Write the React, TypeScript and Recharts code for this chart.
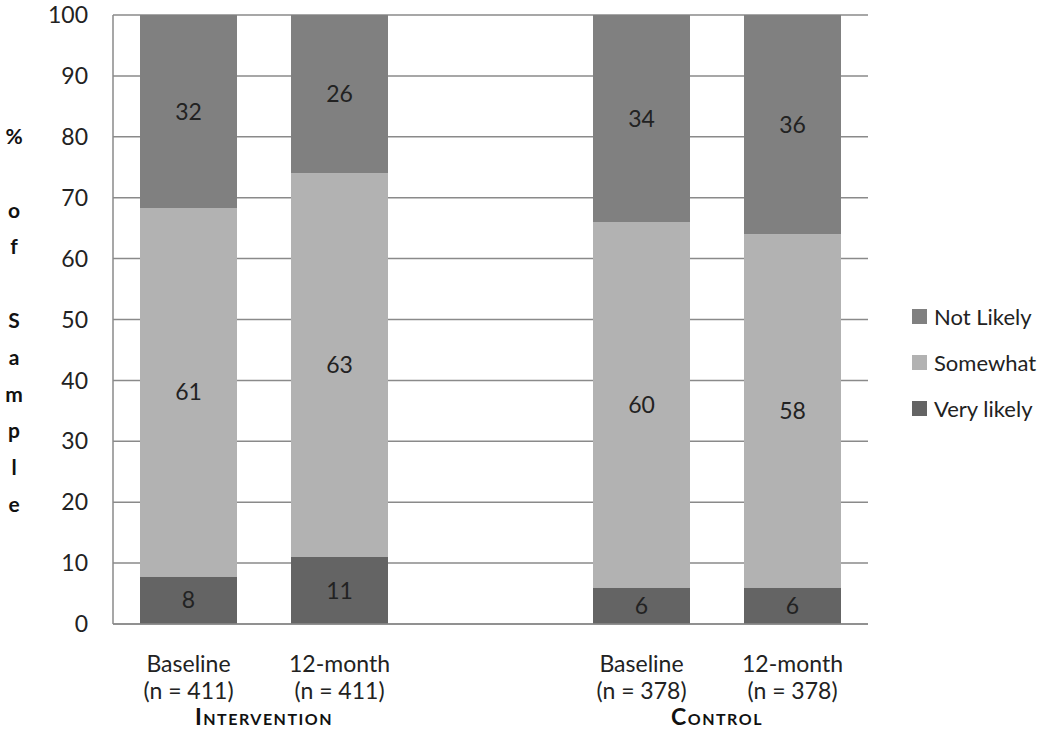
import React from 'react';
import { BarChart, Bar, XAxis, YAxis, CartesianGrid, LabelList, Legend } from 'recharts';

const categories = ['Baseline', '12-month', '', 'Baseline', '12-month'];
const sampleSizes = ['(n = 411)', '(n = 411)', '', '(n = 378)', '(n = 378)'];
const groupLabels = ['Intervention', '', '', 'Control', ''];
const veryLikely: (number | null)[] = [7.8, 11, null, 6, 6];
const somewhat: (number | null)[] = [60.5, 63, null, 60, 58];
const notLikely: (number | null)[] = [31.7, 26, null, 34, 36];
const yTicks = [0, 10, 20, 30, 40, 50, 60, 70, 80, 90, 100];
const yLabelLetters = ['%', '', 'o', 'f', '', 'S', 'a', 'm', 'p', 'l', 'e'];

const series = [
  { key: 'notLikely', name: 'Not Likely', color: '#808080' },
  { key: 'somewhat', name: 'Somewhat', color: '#b2b2b2' },
  { key: 'veryLikely', name: 'Very likely', color: '#646464' },
];

const data = categories.map((c, i) => ({
  name: c,
  idx: i,
  veryLikely: veryLikely[i],
  somewhat: somewhat[i],
  notLikely: notLikely[i],
}));

const FONT = 'Lato, "Open Sans", sans-serif';
const WIDTH = 1050;
const HEIGHT = 729;
const MARGIN = { top: 15, right: 182, left: 0, bottom: 0 };
const Y_WIDTH = 113;
const PLOT_W = WIDTH - MARGIN.right - MARGIN.left - Y_WIDTH;
const STEP = PLOT_W / categories.length;

const XTick = (props: any) => {
  const { x, y, payload } = props;
  const i = payload.index;
  return (
    <g>
      <text x={x} y={y + 48} textAnchor="middle" fontSize={23} fill="#222" fontFamily={FONT}>
        {categories[i]}
      </text>
      <text x={x} y={y + 75} textAnchor="middle" fontSize={23} fill="#222" fontFamily={FONT}>
        {sampleSizes[i]}
      </text>
      {groupLabels[i] ? (
        <text
          x={x + STEP / 2}
          y={y + 101}
          textAnchor="middle"
          fontSize={23}
          fontWeight="bold"
          fill="#111"
          fontFamily={FONT}
          letterSpacing={1.5}
          style={{ fontVariant: 'small-caps' }}
        >
          {groupLabels[i]}
        </text>
      ) : null}
    </g>
  );
};

const renderLegend = () => (
  <div style={{ fontFamily: FONT, fontSize: 22, color: '#222' }}>
    {series.map((s) => (
      <div key={s.key} style={{ display: 'flex', alignItems: 'center', height: 46 }}>
        <span style={{ display: 'inline-block', width: 15, height: 15, background: s.color, marginRight: 7 }} />
        <span>{s.name}</span>
      </div>
    ))}
  </div>
);

const fmt = (v: any) => (v == null ? '' : Math.round(Number(v)));

export default function App() {
  return (
    <div style={{ position: 'absolute', left: 0, top: 0, width: WIDTH, height: HEIGHT, background: '#fff' }}>
      <BarChart width={WIDTH} height={HEIGHT} data={data} margin={MARGIN}>
        <CartesianGrid vertical={false} stroke="#8a8a8a" strokeWidth={1.5} />
        <XAxis
          dataKey="idx"
          type="category"
          height={105}
          tickLine={false}
          tickSize={0}
          tickMargin={0}
          axisLine={{ stroke: '#8a8a8a', strokeWidth: 1.5 }}
          tick={<XTick />}
          interval={0}
        />
        <YAxis
          width={Y_WIDTH}
          domain={[0, 100]}
          ticks={yTicks}
          interval={0}
          tickLine={false}
          tickSize={22}
          tickMargin={3}
          axisLine={{ stroke: '#8a8a8a', strokeWidth: 1.5 }}
          tick={{ fontSize: 23, fill: '#222', fontFamily: FONT }}
          label={(props: any) => {
            const vb = props.viewBox || {};
            const cy = vb.y + vb.height / 2;
            const lh = 36.8;
            const n = yLabelLetters.length;
            return (
              <g>
                {yLabelLetters.map((l, k) => (
                  <text
                    key={k}
                    x={14}
                    y={cy + (k - (n - 1) / 2) * lh}
                    textAnchor="middle"
                    dominantBaseline="central"
                    fontSize={21}
                    fontWeight="bold"
                    fill="#111"
                    fontFamily={FONT}
                  >
                    {l}
                  </text>
                ))}
              </g>
            );
          }}
        />
        <Legend
          layout="vertical"
          align="center"
          verticalAlign="middle"
          content={renderLegend}
          wrapperStyle={{ left: 912, top: 293, width: 140 }}
        />
        <Bar dataKey="veryLikely" stackId="a" fill="#646464" barSize={97} isAnimationActive={false}>
          <LabelList dataKey="veryLikely" position="center" formatter={fmt} fill="#222" fontSize={23} fontFamily={FONT} />
        </Bar>
        <Bar dataKey="somewhat" stackId="a" fill="#b2b2b2" barSize={97} isAnimationActive={false}>
          <LabelList dataKey="somewhat" position="center" formatter={fmt} fill="#222" fontSize={23} fontFamily={FONT} />
        </Bar>
        <Bar dataKey="notLikely" stackId="a" fill="#808080" barSize={97} isAnimationActive={false}>
          <LabelList dataKey="notLikely" position="center" formatter={fmt} fill="#222" fontSize={23} fontFamily={FONT} />
        </Bar>
      </BarChart>
    </div>
  );
}
